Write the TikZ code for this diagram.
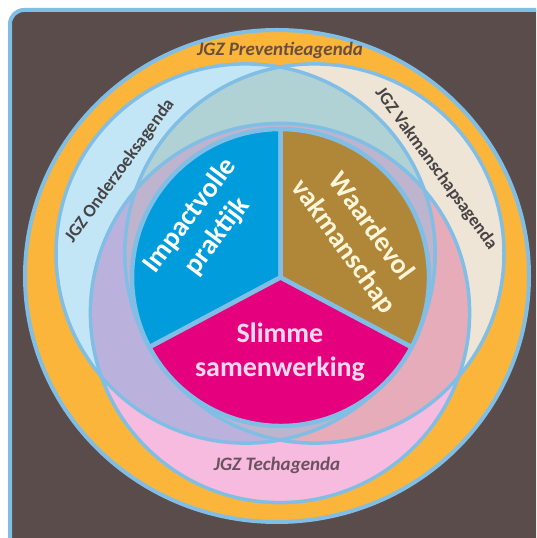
\documentclass[tikz,border=0pt]{standalone}
\usepackage{fontspec}
\setmainfont{Carlito}

\definecolor{bgbrown}{RGB}{89,76,75}
\definecolor{rimblue}{RGB}{128,190,230}
\definecolor{ringorange}{RGB}{251,181,58}
\definecolor{onderzoekblue}{RGB}{195,230,246}
\definecolor{vakmanbeige}{RGB}{238,229,214}
\definecolor{techpink}{RGB}{246,187,222}
\definecolor{mixteal}{RGB}{176,210,212}
\definecolor{mixlavender}{RGB}{186,178,221}
\definecolor{mixrose}{RGB}{231,172,186}
\definecolor{mixtriple}{RGB}{190,180,205}
\definecolor{impactblue}{RGB}{0,156,220}
\definecolor{waardebrown}{RGB}{176,134,56}
\definecolor{slimmepink}{RGB}{229,0,125}
\definecolor{waardecream}{RGB}{255,246,218}
\definecolor{slimmetext}{RGB}{252,218,236}
\definecolor{preventietext}{RGB}{105,80,62}
\definecolor{agendagrey}{RGB}{72,68,70}
\definecolor{techtext}{RGB}{108,82,96}

\newcommand{\vennr}{189.6}
\newcommand{\pier}{148.5}

\tikzset{
  rim/.style={draw=rimblue, line width=4pt},
  venn/.style={draw=rimblue, line width=3.5pt},
  sector/.style={draw=rimblue, line width=4.5pt, line join=round},
  pietext/.style={font=\fontsize{28}{34}\selectfont\bfseries, align=center, text=white},
  agendatext/.style={font=\fontsize{18}{20}\selectfont\bfseries, text=agendagrey},
  agendaitalic/.style={font=\fontsize{19}{21}\selectfont\bfseries\itshape}
}

\begin{document}
\begin{tikzpicture}[x=1pt, y=1pt]
\useasboundingbox (0,0) rectangle (536,538);
\clip (0,0) rectangle (536,538);

% Achtergrond en preventiering
\draw [rim, fill=bgbrown, rounded corners=14pt] (10,-20) rectangle (560,528);
\draw [rim, fill=ringorange] (277,262) ellipse [x radius=252, y radius=246];

% Middelpunten
\coordinate (onderzoek) at (245.6,284.5);
\coordinate (vakman) at (314.4,284.5);
\coordinate (tech) at (280,225);
\coordinate (pie) at (280.5,260.5);

% Agenda-cirkels
\fill [onderzoekblue] (onderzoek) circle (\vennr);
\fill [vakmanbeige] (vakman) circle (\vennr);
\fill [techpink] (tech) circle (\vennr);
\begin{scope}
  \clip (vakman) circle (\vennr);
  \fill [mixrose] (tech) circle (\vennr);
\end{scope}
\begin{scope}
  \clip (onderzoek) circle (\vennr);
  \fill [mixteal] (vakman) circle (\vennr);
  \fill [mixlavender] (tech) circle (\vennr);
  \clip (vakman) circle (\vennr);
  \fill [mixtriple] (tech) circle (\vennr);
\end{scope}
\draw [venn] (onderzoek) circle (\vennr);
\draw [venn] (vakman) circle (\vennr);
\draw [venn] (tech) circle (\vennr);

% Taartpunten
\filldraw [sector, fill=impactblue] (pie) -- ++(90:\pier) arc [start angle=90, end angle=208, radius=\pier] -- cycle;
\filldraw [sector, fill=waardebrown] (pie) -- ++(-28:\pier) arc [start angle=-28, end angle=90, radius=\pier] -- cycle;
\filldraw [sector, fill=slimmepink] (pie) -- ++(208:\pier) arc [start angle=208, end angle=332, radius=\pier] -- cycle;

% Nodes
\node (impact) [pietext, rotate=53] at (204,312) {Impactvolle\\praktijk};
\node (waarde) [pietext, rotate=-54, text=waardecream] at (357,301) {Waardevol\\vakmanschap};
\node (slimme) [pietext, text=slimmetext] at (280,186) {Slimme\\samenwerking};
\node (preventie) [agendaitalic, text=preventietext] at (280,488) {JGZ Preventieagenda};
\node (onderzoektxt) [agendatext, rotate=54] at (120,367) {JGZ Onderzoeksagenda};
\node (vakmantxt) [agendatext, rotate=-54] at (436,369) {JGZ Vakmanschapsagenda};
\node (techtxt) [agendaitalic, text=techtext] at (277,73) {JGZ Techagenda};
\end{tikzpicture}
\end{document}
